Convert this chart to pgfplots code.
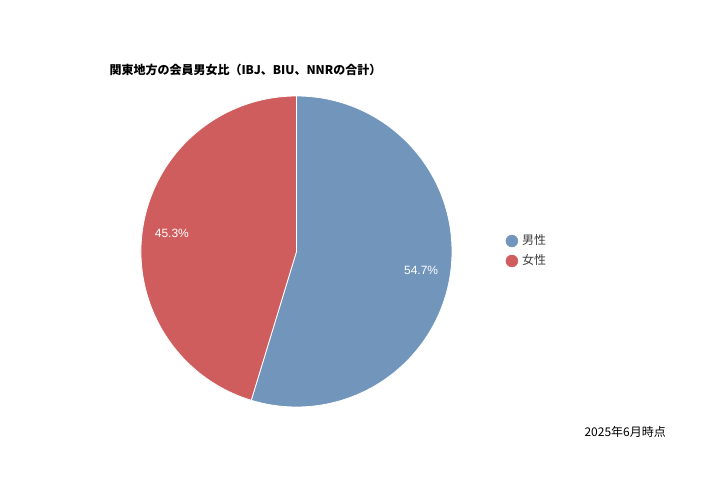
\documentclass[border=0pt]{standalone}
\usepackage{fontspec}
\setmainfont{Liberation Sans}
\newfontfamily\jp{Noto Sans CJK JP}
\usepackage{pgfplots}
\pgfplotsset{compat=1.18}
\usepackage{pgfplotstable}
\usetikzlibrary{calc}

\definecolor{malecol}{RGB}{113,149,187}
\definecolor{femalecol}{RGB}{208,93,93}
\definecolor{txt}{RGB}{60,60,60}

% share of members, percent (male, female)
\pgfplotstableread{
share
54.7
45.3
}\pietable
\pgfplotstablegetelem{0}{share}\of\pietable\let\male\pgfplotsretval
\pgfplotstablegetelem{1}{share}\of\pietable\let\female\pgfplotsretval
\pgfmathsetmacro\maleend{90-3.6*\male}
\pgfmathsetmacro\femaleend{\maleend-3.6*\female}
\pgfmathsetmacro\malemid{90-1.8*\male}
\pgfmathsetmacro\femalemid{\maleend-1.8*\female}

\pgfplotsset{
  dotlegend/.style={legend image code/.code={\fill[##1] (6bp,0bp) circle (6bp);}},
}

\begin{document}
\begin{tikzpicture}
\path (0,0) rectangle (720bp,480bp);
\begin{axis}[
    at={(0,0)}, anchor=south west,
    x=1bp, y=1bp,
    xmin=0, xmax=720, ymin=0, ymax=480,
    scale only axis,
    hide axis,
    clip=false,
    legend style={
        at={(axis cs:505.5,229)}, anchor=west,
        draw=none, fill=none,
        font=\jp\fontsize{12bp}{14bp}\selectfont,
        text=txt,
        inner sep=0pt,
        nodes={inner xsep=4bp, inner ysep=3bp, text height=10bp, text depth=4bp},
    },
    legend cell align=left,
]
    \def\cx{296.5}
    \def\cy{228.5}
    \def\r{155.5bp}

    \filldraw[fill=malecol, draw=white, line width=0.8bp]
        (axis cs:\cx,\cy) -- ++(90:\r) arc[start angle=90, end angle=\maleend, radius=\r] -- cycle;
    \filldraw[fill=femalecol, draw=white, line width=0.8bp]
        (axis cs:\cx,\cy) -- ++(\maleend:\r) arc[start angle=\maleend, end angle=\femaleend, radius=\r] -- cycle;

    \node[white, font=\fontsize{12bp}{14bp}\selectfont]
        at ($(axis cs:\cx,\cy)+(\malemid:126bp)$) {\male\%};
    \node[white, font=\fontsize{12bp}{14bp}\selectfont]
        at ($(axis cs:\cx,\cy)+(\femalemid:126bp)$) {\female\%};

    \addlegendimage{dotlegend, malecol}
    \addlegendentry{男性}
    \addlegendimage{dotlegend, femalecol}
    \addlegendentry{女性}

    \node[anchor=west, text=black, font=\jp\bfseries\fontsize{12bp}{14bp}\selectfont]
        at (axis cs:106,410) {関東地方の会員男女比（IBJ、BIU、NNRの合計）};
    \node[anchor=west, text=black, font=\jp\fontsize{12bp}{14bp}\selectfont]
        at (axis cs:581,48) {2025年6月時点};
\end{axis}
\end{tikzpicture}
\end{document}
